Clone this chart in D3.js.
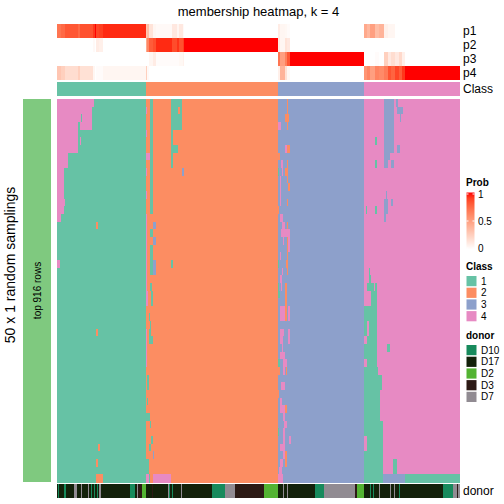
<!DOCTYPE html>
<html><head><meta charset="utf-8">
<script src="https://cdn.jsdelivr.net/npm/d3@7"></script>
<style>
body{margin:0;background:#fff}
text{font-family:"Liberation Sans",Arial,Helvetica,sans-serif;fill:#000}
</style>
</head><body>
<svg id="chart" width="504" height="504"></svg>
<script>
// ---------------- data ----------------
const classes = ["1","2","3","4"];
const classColors = ["#66C2A5","#FC8D62","#8DA0CB","#E78AC3"];
const donors = ["D10","D17","D2","D3","D7"];
const donorColors = ["#178A5C","#13210A","#53B332","#2C1A15","#918B92"];
const probRows = ["p1","p2","p3","p4"];
const probTicks = [0, 0.5, 1];
const titleText = "membership heatmap, k = 4";
const rowTitle = "50 x 1 random samplings";
const rowAnnoLabel = "top 916 rows";
const nSamplings = 50;

// consensus class per sample, as runs [class, count]
const classRuns = [[1,89],[2,132],[3,86],[4,96]];

// membership probabilities, as runs [count, p1, p2, p3, p4]
const probRuns = [
  [4,0.70,0,0,0.30],[4,0.75,0,0,0.25],[13,0.82,0,0,0.18],[2,0.75,0,0,0.25],
  [13,0.84,0,0,0.16],[2,0.92,0.03,0,0.05],[1,1.0,0,0,0],[3,0.88,0.10,0,0.02],
  [4,0.90,0.08,0,0.02],[43,0.95,0,0,0.05],
  [1,0.30,0.45,0,0.25],[2,0.35,0.62,0,0.03],[4,0.15,0.80,0.05,0],[3,0.05,0.85,0.10,0],
  [16,0.03,0.95,0.02,0],[5,0.12,0.86,0.02,0],[2,0.05,0.93,0.02,0],[4,0.12,0.84,0.04,0],
  [1,0.03,0.90,0.07,0],[94,0,1,0,0],
  [2,0.10,0.12,0.70,0.08],[5,0.05,0.05,0.50,0.40],[2,0.04,0.15,0.65,0.16],
  [3,0.02,0.12,0.82,0.04],[74,0,0,1,0],
  [3,0.45,0,0,0.55],[3,0.38,0,0,0.62],[5,0.50,0,0,0.50],[4,0.35,0,0.02,0.63],
  [5,0.40,0,0,0.60],[4,0.08,0,0.25,0.67],[3,0.05,0,0.12,0.83],[4,0.05,0,0.18,0.77],
  [4,0,0,0.12,0.88],[3,0,0,0.20,0.80],[3,0,0,0.08,0.92],[55,0,0,0,1]
];

// donor per sample, as runs [donor, count]
const donorRuns = [
  ["D17",1],["D10",1],["D17",5],["D10",2],["D17",8],["D7",3],["D17",4],["D7",1],
  ["D17",6],["D7",1],["D17",2],["D10",1],["D17",2],["D10",1],["D17",2],["D10",1],
  ["D17",1],["D7",2],["D17",29],["D10",5],["D17",2],["D7",1],["D3",4],["D2",4],
  ["D17",6],["D3",1],["D17",15],["D7",1],["D10",1],["D17",2],["D10",1],["D17",8],
  ["D7",1],["D17",30],["D10",13],["D7",10],["D3",29],["D2",14],["D17",5],["D7",1],
  ["D17",3],["D7",1],["D17",27],["D10",9],["D7",31],["D3",2],["D2",7],["D17",6],
  ["D10",1],["D17",2],["D10",1],["D17",5],["D7",1],["D17",10],["D7",1],["D17",3],
  ["D7",1],["D17",4],["D10",1],["D17",43],["D10",10],["D7",4],["D3",1],["D7",2]
];

// samplings whose class differs from consensus: [rowFrom, rowTo, sampleFrom, sampleTo(excl), class]
const deviations = [
  [0,0,0,37,4],[1,1,0,35,4],[2,2,0,24,4],[2,2,25,35,4],[3,3,0,21,4],[3,3,23,35,4],
  [4,6,0,21,4],[5,5,23,24,4],[7,8,0,11,4],[9,12,0,7,4],[13,13,0,8,4],[14,14,0,7,4],
  [15,15,0,4,4],[21,21,0,3,4],[16,16,39,41,2],[30,30,39,41,2],[45,45,41,43,2],
  [47,47,39,41,2],[49,49,39,46,2],
  [0,14,93,96,1],[17,17,93,96,1],[19,22,93,96,1],[24,24,93,95,1],
  [1,1,89,90,4],[4,4,89,90,4],[9,9,89,90,4],[12,12,89,90,4],[15,25,89,90,4],[7,7,89,93,4],
  [0,3,114,125,1],[1,1,121,123,2],[4,8,114,116,1],[6,6,116,121,1],[9,9,125,127,3],
  [16,16,96,99,3],[18,18,96,99,3],[21,22,96,99,3],[21,21,114,116,1],
  [25,26,94,96,1],[25,26,89,91,4],[28,28,92,93,1],[29,29,93,94,1],[30,34,89,90,4],
  [30,31,92,94,1],[31,31,94,96,1],[36,37,90,92,1],[39,39,90,91,1],[41,41,89,93,1],
  [42,42,93,94,1],[44,44,94,96,1],[45,45,92,94,1],[46,46,96,97,3],[47,48,89,92,1],
  [49,49,89,92,4],[49,49,92,93,1],[49,49,96,114,4],
  [0,3,230,231,2],[8,10,230,231,2],[13,13,230,231,2],[16,22,230,231,2],[2,2,228,232,2],
  [3,3,221,224,4],[6,6,228,230,4],[6,6,230,233,2],[7,7,221,223,2],[8,8,224,226,4],
  [9,9,221,222,1],[9,9,225,226,4],[9,9,228,230,2],[10,10,223,224,4],[11,11,231,233,2],
  [11,11,223,224,4],[12,13,223,224,4],[14,14,221,222,2],[15,15,223,226,4],[16,16,225,228,4],
  [17,17,224,233,4],[18,18,226,227,4],[18,18,231,233,4],[19,19,231,233,4],[20,20,223,224,4],
  [21,21,221,222,1],[21,21,229,230,2],[22,22,225,226,4],[23,23,223,225,4],[24,24,221,222,1],
  [24,24,224,225,4],[24,24,228,230,2],[25,26,228,230,2],[25,25,221,223,1],
  [27,28,223,228,4],[27,28,228,230,2],[27,28,231,233,4],[30,30,223,227,4],[30,30,231,233,4],
  [31,31,223,226,4],[31,31,231,233,4],[32,32,225,226,4],[33,33,223,228,4],[34,34,221,223,1],
  [34,34,226,230,4],[35,35,221,223,2],[35,35,229,230,2],[35,35,226,228,4],[37,37,224,228,4],
  [38,38,221,222,2],[39,39,223,225,4],[40,40,223,228,4],[40,40,228,230,2],[41,41,226,228,4],
  [42,42,227,230,4],[43,43,221,222,1],[43,43,226,228,4],[44,44,226,228,4],[44,44,232,234,4],
  [45,45,223,228,4],[46,46,226,228,4],[46,46,228,230,2],[47,47,223,226,4],[47,47,228,230,2],
  [48,48,222,225,4],[49,49,221,226,4],
  [0,6,327,337,3],[0,0,339,341,3],[1,1,340,346,3],[2,2,343,344,3],[6,6,340,343,3],
  [7,7,327,333,3],[8,8,327,331,3],[8,8,334,337,3],[5,5,318,320,1],[8,8,318,320,1],
  [12,12,329,330,3],[13,13,327,331,3],[13,13,334,336,3],[14,14,327,331,3],[14,14,309,310,1],
  [14,14,318,320,1],[15,15,327,329,3],[22,22,312,313,1],[23,23,312,314,1],[24,24,310,317,1],
  [24,24,318,320,1],[25,26,314,320,1],[27,33,307,320,1],[29,30,310,312,4],[31,31,307,310,4],
  [32,32,330,333,1],[34,34,310,320,1],[35,37,307,321,1],[36,37,321,325,1],[38,41,307,323,1],
  [42,48,307,326,1],[44,45,307,310,4],[47,48,336,340,1],
  [49,49,307,326,1],[49,49,326,348,3],[49,49,348,403,1]
];

// ---------------- build ----------------
const expand = (runs, valueOf, countOf) => runs.flatMap(r => Array(countOf(r)).fill(valueOf(r)));
const sampleClass = expand(classRuns, r => r[0], r => r[1]);
const sampleProb = expand(probRuns, r => r.slice(1), r => r[0]);
const sampleDonor = expand(donorRuns, r => r[0], r => r[1]);
const samples = d3.range(sampleClass.length);
const rows = d3.range(nSamplings);

const membership = rows.map(() => sampleClass.slice());
deviations.forEach(([r0, r1, c0, c1, k]) => {
  for (let r = r0; r <= r1; r++) for (let c = c0; c < c1; c++) membership[r][c] = k;
});

// run-length compress an array into segments {start, n, v}
function segments(arr) {
  const out = [];
  arr.forEach((v, i) => {
    const last = out[out.length - 1];
    if (last && last.v === v) last.n++;
    else out.push({start: i, n: 1, v});
  });
  return out;
}

const svg = d3.select("#chart");
const x = d3.scaleBand().domain(samples).range([57, 460]);
const yMain = d3.scaleBand().domain(rows).range([99, 482]);
const yProb = d3.scaleBand().domain(probRows).range([24, 80]);
const classColor = d3.scaleOrdinal(classes.map(Number), classColors);
const donorColor = d3.scaleOrdinal(donors, donorColors);
const probColor = d3.scaleLinear().domain([0, 1]).range(["#FFFFFF", "#FF0000"]).interpolate(d3.interpolateLab);
const segX = s => x(s.start);
const segW = s => x(s.start + s.n - 1) + x.bandwidth() - x(s.start);

const g = svg.append("g").attr("shape-rendering", "crispEdges");

// title
svg.append("text").attr("x", 258.5).attr("y", 16).attr("text-anchor", "middle")
  .style("font-size", "13px").text(titleText);

// probability rows
probRows.forEach((p, i) => {
  const segs = segments(sampleProb.map(v => v[i]));
  g.append("g").selectAll("rect").data(segs).join("rect")
    .attr("x", segX).attr("width", segW)
    .attr("y", yProb(p)).attr("height", yProb.bandwidth())
    .attr("fill", s => probColor(s.v));
  svg.append("text").attr("x", 463).attr("y", yProb(p) + yProb.bandwidth() / 2 + 4)
    .style("font-size", "12px").text(p);
});

// class annotation row
g.append("g").selectAll("rect").data(segments(sampleClass)).join("rect")
  .attr("x", segX).attr("width", segW).attr("y", 82).attr("height", 14)
  .attr("fill", s => classColor(s.v));
svg.append("text").attr("x", 463).attr("y", 93).style("font-size", "12px").text("Class");

// main membership heatmap
rows.forEach(r => {
  g.append("g").selectAll("rect").data(segments(membership[r])).join("rect")
    .attr("x", segX).attr("width", segW)
    .attr("y", yMain(r)).attr("height", yMain.bandwidth() + 0.5)
    .attr("fill", s => classColor(s.v));
});

// donor row
g.append("g").selectAll("rect").data(segments(sampleDonor)).join("rect")
  .attr("x", segX).attr("width", segW).attr("y", 484).attr("height", 14)
  .attr("fill", s => donorColor(s.v));
svg.append("text").attr("x", 463).attr("y", 495).style("font-size", "12px").text("donor");

// left row annotation
g.append("rect").attr("x", 23).attr("y", 99).attr("width", 28).attr("height", 383).attr("fill", "#7FC97F");
svg.append("text").attr("transform", "translate(40.5,290.5) rotate(-90)").attr("text-anchor", "middle")
  .style("font-size", "10px").text(rowAnnoLabel);
svg.append("text").attr("transform", "translate(14.5,265) rotate(-90)").attr("text-anchor", "middle")
  .style("font-size", "14px").text(rowTitle);

// ---------------- legends ----------------
const lg = svg.append("g");
lg.append("text").attr("x", 466).attr("y", 186).style("font-size", "10px").style("font-weight", "bold").text("Prob");
const defs = svg.append("defs");
const grad = defs.append("linearGradient").attr("id", "pg").attr("x1", 0).attr("y1", 1).attr("x2", 0).attr("y2", 0);
d3.range(0, 1.0001, 0.1).forEach(t => grad.append("stop").attr("offset", t).attr("stop-color", probColor(t)));
const yLeg = d3.scaleLinear().domain([0, 1]).range([248, 194]);
lg.append("rect").attr("x", 466.5).attr("y", yLeg(1) - 1.5).attr("width", 8).attr("height", yLeg(0) - yLeg(1) + 3).attr("fill", "url(#pg)");
probTicks.forEach(t => {
  lg.append("line").attr("x1", 466.5).attr("x2", 468.5).attr("y1", yLeg(t)).attr("y2", yLeg(t)).attr("stroke", "#fff");
  lg.append("line").attr("x1", 472.5).attr("x2", 474.5).attr("y1", yLeg(t)).attr("y2", yLeg(t)).attr("stroke", "#fff");
  lg.append("text").attr("x", 478).attr("y", yLeg(t) + 3.5).style("font-size", "10px").text(t);
});

lg.append("text").attr("x", 466).attr("y", 270).style("font-size", "10px").style("font-weight", "bold").text("Class");
classes.forEach((c, i) => {
  lg.append("rect").attr("x", 466.5).attr("y", 276 + i * 11.7).attr("width", 10).attr("height", 10.2).attr("fill", classColors[i]);
  lg.append("text").attr("x", 481).attr("y", 284.5 + i * 11.7).style("font-size", "10px").text(c);
});

lg.append("text").attr("x", 466).attr("y", 339).style("font-size", "10px").style("font-weight", "bold").text("donor");
donors.forEach((d, i) => {
  lg.append("rect").attr("x", 466.5).attr("y", 345 + i * 11.7).attr("width", 10).attr("height", 10.2).attr("fill", donorColors[i]);
  lg.append("text").attr("x", 481).attr("y", 353.5 + i * 11.7).style("font-size", "10px").text(d);
});
</script>
</body></html>
